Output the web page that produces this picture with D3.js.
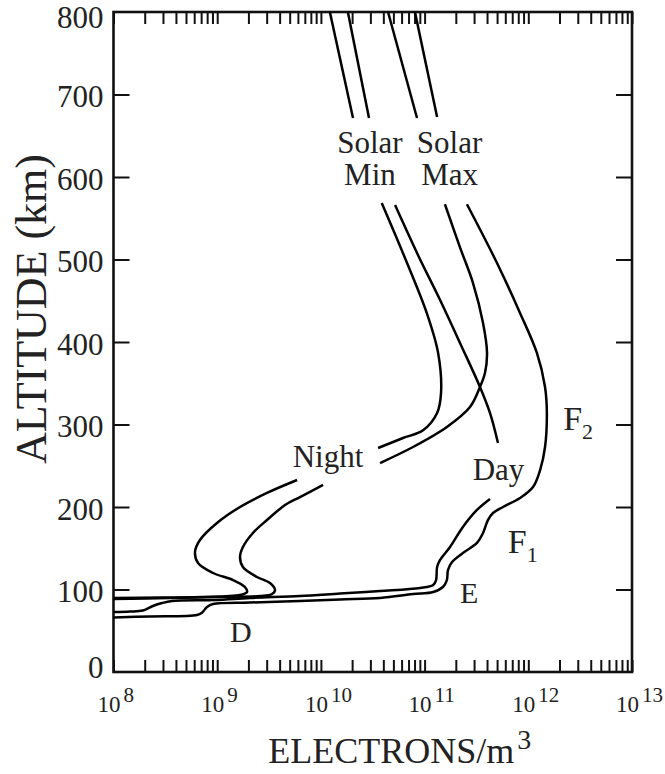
<!DOCTYPE html>
<html>
<head>
<meta charset="utf-8">
<script src="https://cdn.jsdelivr.net/npm/d3@7"></script>
<style>
  html, body { margin: 0; padding: 0; background: #fff; }
  svg { display: block; font-family: "Liberation Serif", "DejaVu Serif", serif; }
</style>
</head>
<body>
<svg id="chart" width="665" height="774"></svg>
<script>
// Electron density profiles of the ionosphere: [electrons per m^3, altitude km].
// Each profile is split into segments where a label interrupts the line.
const solarMinNight = [
  [[1.22e10, 800], [2.04e10, 671.5]],
  [[3.86e10, 568.5], [6.47e10, 501.8], [1.05e11, 435], [1.35e11, 386.7], [1.44e11, 338],
   [1.32e11, 314], [9.66e10, 293], [6.19e10, 283.6], [3.56e10, 271.5]],
  [[5.89e9, 232.7], [3.02e9, 217], [1.66e9, 200], [9.95e8, 180.6], [6.82e8, 160],
   [6.11e8, 145.5], [6.53e8, 132], [9.10e8, 120], [1.42e9, 111.5], [1.85e9, 103],
   [1.94e9, 97], [1.66e9, 93.3], [6.82e8, 90.9], [2.8e8, 90.3], [1e8, 89.7]]
];
const solarMinDay = [
  [[1.82e10, 800], [2.91e10, 671.5]],
  [[5.19e10, 566], [8.63e10, 505.5], [1.41e11, 450.9], [2.24e11, 396.4], [3.42e11, 345.5],
   [4.27e11, 314], [5.10e11, 277.6]],
  [[4.27e11, 209.7], [3.20e11, 196.4], [2.34e11, 175.8], [1.76e11, 151.5], [1.41e11, 135.8],
   [1.32e11, 127.3], [1.29e11, 111.5], [1.21e11, 105.5], [9.04e10, 101.8], [3.72e10, 98.2],
   [1.53e10, 95.2], [6.28e9, 92.1], [2.07e9, 89.7], [9.52e8, 87.3], [3.67e8, 86],
   [2.94e8, 83.6], [2.40e8, 80], [1.92e8, 74.5], [1.44e8, 73.3], [1e8, 72.7]]
];
const solarMaxNight = [
  [[4.44e10, 800], [8.45e10, 671.5]],
  [[1.57e11, 567], [2.19e11, 515], [2.93e11, 471.5], [3.66e11, 423], [4.0e11, 386.7],
   [3.82e11, 362.4], [3.42e11, 345.5], [2.74e11, 321.2], [1.64e11, 297], [7.73e10, 272.7],
   [3.72e10, 253.3]],
  [[1.05e10, 226.7], [6.28e9, 212], [4.51e9, 202.4], [3.02e9, 184.2], [2.21e9, 168.5],
   [1.77e9, 151.5], [1.66e9, 139.4], [1.77e9, 127.3], [2.42e9, 115.2], [3.23e9, 107.9],
   [3.61e9, 99.4], [3.38e9, 94.5], [2.59e9, 92.1], [1.06e9, 90.9], [3.51e8, 89.7], [1e8, 88.5]]
];
const solarMaxDay = [
  [[8.07e10, 800], [1.32e11, 672.7]],
  [[2.56e11, 567], [4.99e11, 495.8], [8.32e11, 435.2], [1.21e12, 386.7], [1.45e12, 345.5],
   [1.51e12, 314], [1.45e12, 272.7], [1.30e12, 244.8], [1.11e12, 224.2], [8.32e11, 210.9],
   [5.70e11, 200], [4.57e11, 192.7], [4.08e11, 184.2], [3.66e11, 168.5], [3.20e11, 156.4],
   [2.34e11, 144.2], [1.84e11, 133.3], [1.68e11, 123.6], [1.64e11, 111.5], [1.50e11, 103],
   [1.21e11, 97], [7.73e10, 94.5], [3.72e10, 89.7], [1.53e10, 87.9], [6.28e9, 86],
   [2.07e9, 84.2], [9.11e8, 82.4], [7.97e8, 78.8], [7.13e8, 71.9], [6.38e8, 69.1],
   [2.25e8, 67.3], [1e8, 66.1]]
];

// Axis ticks
const xDecades = [8, 9, 10, 11, 12, 13];
const yTickValues = [0, 100, 200, 300, 400, 500, 600, 700, 800];

// Region / condition labels: [text, electrons, altitude]
const regionLabels = [
  ["Night", 5.35e9, 248.8],
  ["Day", 2.91e11, 232.7],
  ["E", 2.19e11, 83.6],
  ["D", 1.33e9, 36.4]
];
const layerLabels = [
  ["F", "2", 2.17e12, 293.3],
  ["F", "1", 6.33e11, 143.9]
];
const solarLabels = [
  ["Solar", "Min", 2.97e10],
  ["Solar", "Max", 1.74e11]
];

const svg = d3.select("#chart");
const plot = { left: 113.5, right: 632, top: 12, bottom: 672 };

const x = d3.scaleLog().domain([1e8, 1e13]).range([plot.left, plot.right]);
const y = d3.scaleLinear().domain([0, 800]).range([plot.bottom, plot.top]);

// Inward tick marks on all four sides
const xTickVals = x.ticks();
const tickStyle = g => {
  g.select(".domain").remove();
  g.selectAll(".tick line").attr("stroke", "#111").attr("stroke-width", 2);
};
svg.append("g").attr("transform", `translate(0,${plot.bottom})`)
  .call(d3.axisBottom(x).tickValues(xTickVals).tickSize(-12).tickFormat(""))
  .call(tickStyle);
svg.append("g").attr("transform", `translate(0,${plot.top})`)
  .call(d3.axisTop(x).tickValues(xTickVals).tickSize(-12).tickFormat(""))
  .call(tickStyle);
svg.append("g").attr("transform", `translate(${plot.left},0)`)
  .call(d3.axisLeft(y).tickValues(yTickValues.slice(1, -1)).tickSize(-16).tickFormat(""))
  .call(tickStyle);
svg.append("g").attr("transform", `translate(${plot.right},0)`)
  .call(d3.axisRight(y).tickValues(yTickValues.slice(1, -1)).tickSize(-16).tickFormat(""))
  .call(tickStyle);

// Frame
svg.append("rect")
  .attr("x", plot.left).attr("y", plot.top)
  .attr("width", plot.right - plot.left).attr("height", plot.bottom - plot.top)
  .attr("fill", "none").attr("stroke", "#111").attr("stroke-width", 2.6);

// Y tick labels (end labels nudged inward so they stay clear of the edges)
const yLabelShift = d => d === 0 ? -5 : d === 800 ? 5 : 2;
svg.append("g").selectAll("text").data(yTickValues).join("text")
  .attr("x", plot.left - 10)
  .attr("y", d => y(d) + yLabelShift(d))
  .attr("dy", "0.35em")
  .attr("text-anchor", "end")
  .attr("font-size", 31)
  .attr("fill", "#222")
  .text(d => d);

// X tick labels: 10 with superscript exponent
const xl = svg.append("g").selectAll("text").data(xDecades).join("text")
  .attr("x", d => x(Math.pow(10, d)) - 16)
  .attr("y", plot.bottom + 40)
  .attr("fill", "#222")
  .attr("font-size", 23);
xl.append("tspan").text("10");
xl.append("tspan").attr("dx", 3).attr("dy", -10).attr("font-size", 21).text(d => d);

// Axis titles
svg.append("text")
  .attr("transform", `translate(46,${(plot.top + plot.bottom) / 2 - 33}) rotate(-90)`)
  .attr("text-anchor", "middle")
  .attr("font-size", 44)
  .attr("fill", "#222")
  .text("ALTITUDE (km)");

const xt = svg.append("text")
  .attr("x", (plot.left + plot.right) / 2 + 27)
  .attr("y", 763)
  .attr("text-anchor", "middle")
  .attr("font-size", 36)
  .attr("fill", "#222");
xt.append("tspan").text("ELECTRONS/m");
xt.append("tspan").attr("dx", 3).attr("dy", -14).attr("font-size", 28).text("3");

// Profiles
const line = d3.line()
  .x(d => x(d[0]))
  .y(d => y(d[1]))
  .curve(d3.curveCatmullRom.alpha(0.5));

const profiles = [solarMinNight, solarMinDay, solarMaxNight, solarMaxDay];
svg.append("g").selectAll("g").data(profiles).join("g")
  .selectAll("path").data(d => d).join("path")
  .attr("d", line)
  .attr("fill", "none")
  .attr("stroke", "#000")
  .attr("stroke-width", 2.5)
  .attr("stroke-linejoin", "round")
  .attr("stroke-linecap", "butt");

// Labels
svg.append("g").selectAll("text").data(regionLabels).join("text")
  .attr("x", d => x(d[1]))
  .attr("y", d => y(d[2]))
  .attr("font-size", d => d[0].length === 1 ? 30 : 31)
  .attr("fill", "#222")
  .text(d => d[0]);

const ll = svg.append("g").selectAll("text").data(layerLabels).join("text")
  .attr("x", d => x(d[2]))
  .attr("y", d => y(d[3]))
  .attr("font-size", 34)
  .attr("fill", "#222");
ll.append("tspan").text(d => d[0]);
ll.append("tspan").attr("dy", 9).attr("font-size", 22).text(d => d[1]);

const sl = svg.append("g").selectAll("text").data(solarLabels).join("text")
  .attr("text-anchor", "middle")
  .attr("font-size", 31)
  .attr("fill", "#222");
sl.append("tspan").attr("x", d => x(d[2])).attr("y", y(629)).text(d => d[0]);
sl.append("tspan").attr("x", d => x(d[2])).attr("y", y(590)).text(d => d[1]);
</script>
</body>
</html>
